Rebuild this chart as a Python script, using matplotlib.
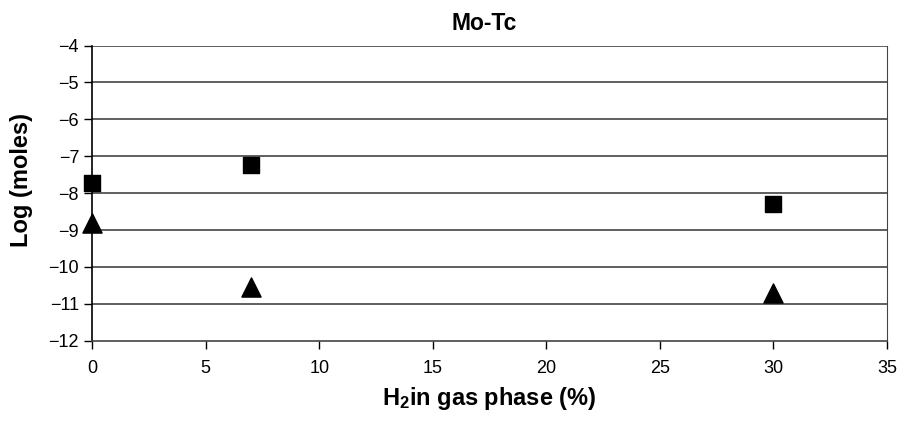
import matplotlib
matplotlib.use('Agg')
import matplotlib.pyplot as plt

plt.rcParams['font.family'] = ['Liberation Sans', 'DejaVu Sans']
plt.rcParams['mathtext.fontset'] = 'custom'
plt.rcParams['mathtext.rm'] = 'Liberation Sans'
plt.rcParams['mathtext.bf'] = 'Liberation Sans:bold'

# данные
h2 = [0, 7, 30]
squares = [-7.72, -7.25, -8.29]
triangles = [-8.80, -10.53, -10.71]

fig = plt.figure(figsize=(9, 4.21), dpi=100)
ax = fig.add_axes([0.1025, 0.1905, 0.8830, 0.7013])

# горизонтальная сетка
for y in range(-11, -3):
    ax.axhline(y, color='#444444', lw=1.2, zorder=1)

ax.scatter(h2, squares, marker='s', s=117, color='black', zorder=3, clip_on=False)
ax.scatter(h2, triangles, marker='^', s=190, color='black', zorder=3, clip_on=False)

ax.set_xlim(0, 35)
ax.set_ylim(-12, -4)
ax.set_xticks(range(0, 36, 5))
ax.set_yticks(range(-12, -3))
ax.tick_params(direction='out', length=5.5, width=1, labelsize=13, colors='black')
ax.tick_params(axis='x', pad=8)
ax.tick_params(axis='y', pad=4)

ax.spines['top'].set_visible(False)
ax.spines['right'].set_color('#444444')
ax.spines['left'].set_linewidth(1.2)
ax.spines['bottom'].set_color('#444444')
ax.spines['bottom'].set_linewidth(1.2)

ax.set_title('Mo-Tc', fontsize=16.5, fontweight='bold', pad=11, x=0.493)
ax.set_xlabel(r'$\mathbf{H_2}$in gas phase (%)', fontsize=17, fontweight='bold', labelpad=6)
ax.set_ylabel('Log (moles)', fontsize=17, fontweight='bold')
ax.yaxis.set_label_coords(-0.074, 0.546)

fig.savefig('out.png', dpi=100)
